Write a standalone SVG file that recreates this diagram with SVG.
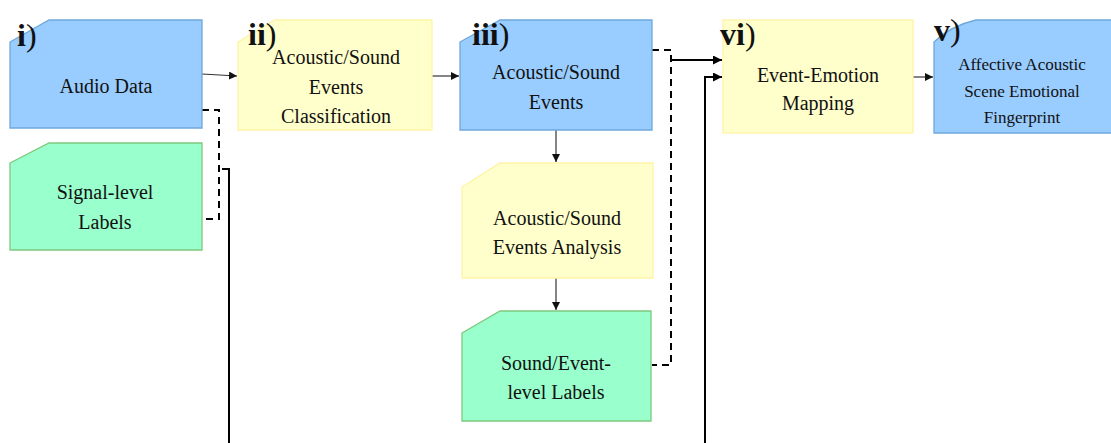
<svg xmlns="http://www.w3.org/2000/svg" width="1111" height="443" viewBox="0 0 1111 443">
<defs>
<style>
.blue{fill:#99CCFF;stroke:#6FA8DC;stroke-width:1.3}
.yellow{fill:#FFFFCC;stroke:#FFF3A6;stroke-width:1.3}
.green{fill:#99FFCC;stroke:#7DC97D;stroke-width:1.3}
text{font-family:'Liberation Serif','Times New Roman',serif}
.t{font-size:20px;fill:#111;text-anchor:middle}
.ts{font-size:17px;fill:#111;text-anchor:middle}
.num{font-size:32px;fill:#111}
.b{font-weight:bold}
.thin{fill:none;stroke:#333;stroke-width:1.2}
.thick{fill:none;stroke:#000;stroke-width:2}
.dash{fill:none;stroke:#000;stroke-width:2;stroke-dasharray:7,5}
</style>
<marker id="ah" viewBox="0 0 10 10" refX="10" refY="5" markerWidth="8" markerHeight="8" markerUnits="userSpaceOnUse" orient="auto"><path d="M0,0 L10,5 L0,10 z" fill="#111"/></marker>
<marker id="ahb" viewBox="0 0 10 10" refX="10" refY="5" markerWidth="9" markerHeight="9" markerUnits="userSpaceOnUse" orient="auto"><path d="M0,0 L10,5 L0,10 z" fill="#000"/></marker>
</defs>
<rect width="1111" height="443" fill="#fff"/>

<g id="connectors">
<path class="thin" d="M202,74 L237,76" marker-end="url(#ah)"/>
<path class="thin" d="M432,76 L459,76" marker-end="url(#ah)"/>
<path class="thin" d="M556,130 L556,162" marker-end="url(#ah)"/>
<path class="thin" d="M556,278 L556,310" marker-end="url(#ah)"/>
<path class="thin" d="M913,77 L933,77" marker-end="url(#ah)"/>
<path class="dash" d="M202,110 H219 V219 H202"/>
<path class="dash" d="M652,50 H671 V365 H652"/>
<path class="thick" d="M671,60 H722" marker-end="url(#ahb)"/>
<path class="thick" d="M222,169 H229 V443"/>
<path class="thick" d="M705,443 V77 H722" marker-end="url(#ahb)"/>
</g>

<g id="node-i">
<path class="blue" d="M10,42 L49,20 H202 V128 H10 Z"/>
<text class="t" x="106" y="93">Audio Data</text>
<text class="num" x="17" y="46"><tspan class="b">i</tspan>)</text>
</g>

<g id="node-signal">
<path class="green" d="M10,163 L49,143 H202 V250 H10 Z"/>
<text class="t" x="105" y="199">Signal-level</text>
<text class="t" x="105" y="229">Labels</text>
</g>

<g id="node-ii">
<path class="yellow" d="M238,42 L275,20 H432 V130 H238 Z"/>
<text class="t" x="336" y="64">Acoustic/Sound</text>
<text class="t" x="336" y="94">Events</text>
<text class="t" x="336" y="123">Classification</text>
<text class="num" x="248" y="45"><tspan class="b">ii</tspan>)</text>
</g>

<g id="node-iii">
<path class="blue" d="M460,42 L500,20 H652 V130 H460 Z"/>
<text class="t" x="556" y="79">Acoustic/Sound</text>
<text class="t" x="556" y="109">Events</text>
<text class="num" x="472" y="45"><tspan class="b">iii</tspan>)</text>
</g>

<g id="node-analysis">
<path class="yellow" d="M462,187 L500,163 H653 V278 H462 Z"/>
<text class="t" x="557" y="225">Acoustic/Sound</text>
<text class="t" x="557" y="254">Events Analysis</text>
</g>

<g id="node-soundlabels">
<path class="green" d="M462,333 L500,311 H651 V421 H462 Z"/>
<text class="t" x="556" y="370">Sound/Event-</text>
<text class="t" x="556" y="399">level Labels</text>
</g>

<g id="node-vi">
<rect class="yellow" x="723" y="20" width="190" height="113"/>
<text class="t" x="818" y="82">Event-Emotion</text>
<text class="t" x="818" y="110">Mapping</text>
<text class="num" x="720" y="45"><tspan class="b">vi</tspan>)</text>
</g>

<g id="node-v">
<path class="blue" d="M934,42 Q950,26 976,20 H1112 V133 H934 Z"/>
<text class="ts" x="1022" y="70">Affective Acoustic</text>
<text class="ts" x="1022" y="97">Scene Emotional</text>
<text class="ts" x="1022" y="123">Fingerprint</text>
<text class="num" x="934" y="41"><tspan class="b">v</tspan>)</text>
</g>
</svg>
